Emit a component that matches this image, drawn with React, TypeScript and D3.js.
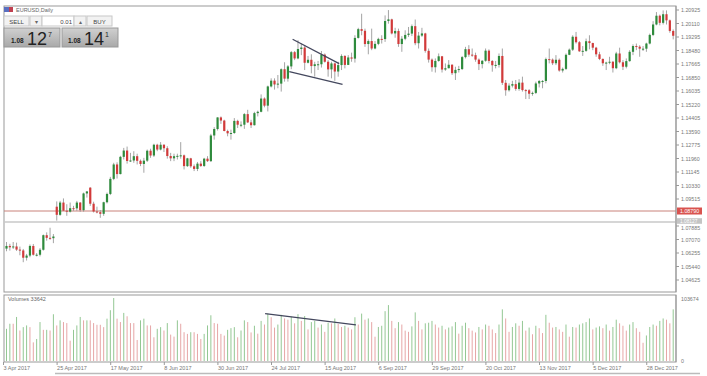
import React from 'react';
import * as d3 from 'd3';

// EUR/USD daily, prices in 1/10000 units
const opens = [
10652,10668,10660,10665,10646,10641,10597,10610,10668,10615,10615,10645,10733,10717,10715,10905,10856,10930,10881,10875,
10896,10895,10930,10884,10985,11020,10923,10876,10872,10862,10932,10982,11073,11160,11102,11206,11244,11181,11184,11210,
11182,11163,11183,11243,11214,11279,11250,11279,11258,11211,11197,11210,11212,11215,11150,11197,11149,11133,11165,11151,
11195,11180,11335,11374,11444,11425,11362,11348,11350,11423,11400,11400,11464,11414,11397,11470,11478,11558,11515,11631,
11666,11643,11648,11735,11678,11752,11838,11800,11857,11866,11774,11792,11754,11765,11765,11823,11780,11734,11770,11721,
11760,11815,11761,11806,11799,11924,11977,11967,11887,11905,11860,11888,11918,11917,12026,12036,11951,11966,11887,11919,
11942,11950,11995,11892,11938,11951,11846,11793,11747,11785,11813,11733,11741,11762,11711,11731,11736,11808,11856,11823,
11820,11793,11766,11786,11847,11785,11759,11761,11815,11653,11608,11636,11645,11616,11654,11609,11608,11587,11592,11649,
11664,11664,11796,11793,11771,11792,11727,11737,11822,11853,11931,11898,11843,11846,11904,11893,11865,11825,11797,11771,
11775,11780,11741,11830,11777,11750,11784,11840,11875,11871,11859,11859,11890,11942,12005,12058,12015,12067,12030,11966];
const highs = [
10692,10681,10692,10688,10664,10650,10620,10677,10680,10625,10655,10737,10750,10778,10740,10937,10940,10955,10920,10930,
10910,10940,10933,10990,11000,11023,10935,10905,10885,10935,10990,11085,11170,11173,11212,11260,11268,11230,11240,11225,
11190,11200,11250,11255,11285,11285,11295,11282,11270,11230,11225,11225,11295,11220,11200,11200,11160,11175,11180,11200,
11210,11345,11385,11445,11450,11430,11370,11370,11440,11430,11420,11470,11490,11430,11478,11485,11583,11565,11636,11680,
11680,11700,11740,11777,11760,11845,11845,11910,11890,11880,11815,11825,11780,11785,11845,11830,11790,11780,11775,11780,
11825,11820,11820,11835,11940,11985,12070,11980,11915,11980,11905,11925,11940,12060,12092,12040,11985,11980,11935,11970,
11990,12005,12035,11960,11985,11955,11860,11800,11800,11830,11815,11770,11790,11765,11750,11755,11815,11870,11880,11860,
11835,11800,11790,11860,11855,11790,11785,11830,11860,11670,11650,11665,11670,11675,11690,11615,11615,11600,11660,11670,
11670,11805,11860,11800,11820,11800,11745,11830,11860,11940,11960,11905,11875,11920,11940,11895,11870,11840,11800,11780,
11810,11785,11840,11865,11790,11800,11850,11885,11890,11880,11875,11895,11950,12025,12080,12065,12090,12090,12035,11975];
const lows = [
10636,10640,10650,10638,10612,10570,10580,10600,10610,10605,10605,10640,10700,10705,10685,10821,10850,10880,10850,10870,
10880,10880,10874,10875,10960,10910,10870,10865,10838,10850,10925,10975,11065,11075,11100,11190,11165,11175,11170,11160,
11150,11110,11175,11200,11205,11240,11245,11235,11195,11180,11180,11190,11195,11130,11145,11140,11120,11120,11145,11145,
11175,11175,11310,11365,11405,11360,11330,11310,11345,11380,11385,11375,11410,11380,11395,11450,11475,11505,11480,11625,
11612,11620,11600,11660,11660,11735,11790,11795,11820,11730,11770,11710,11690,11730,11745,11775,11690,11680,11665,11690,
11730,11740,11760,11780,11775,11920,11940,11870,11825,11850,11855,11880,11890,11900,12010,11945,11925,11870,11840,11910,
11930,11935,11880,11860,11930,11835,11775,11720,11715,11780,11715,11725,11740,11700,11670,11715,11730,11800,11810,11810,
11780,11730,11740,11780,11770,11720,11740,11745,11640,11575,11600,11625,11605,11605,11600,11555,11555,11575,11585,11625,
11620,11650,11770,11760,11760,11720,11715,11730,11820,11845,11890,11840,11815,11840,11855,11850,11810,11790,11755,11730,
11765,11715,11735,11770,11730,11740,11780,11820,11850,11810,11845,11840,11885,11935,12000,12000,12005,12005,11955,11915];
const closes = [
10668,10660,10665,10646,10641,10597,10610,10668,10615,10615,10645,10733,10717,10715,10725,10856,10930,10881,10875,10896,
10895,10930,10884,10985,10997,10923,10876,10872,10862,10932,10982,11073,11160,11102,11206,11244,11181,11184,11210,11182,
11163,11183,11243,11214,11279,11250,11279,11258,11211,11197,11210,11212,11215,11150,11197,11149,11133,11165,11151,11195,
11180,11335,11374,11444,11425,11362,11348,11350,11423,11400,11400,11464,11414,11397,11470,11478,11558,11515,11631,11666,
11643,11648,11735,11678,11752,11838,11800,11857,11866,11774,11792,11754,11765,11765,11823,11780,11734,11770,11721,11760,
11815,11761,11806,11799,11924,11977,11967,11887,11905,11860,11888,11918,11917,12026,12036,11951,11966,11887,11919,11942,
11950,11995,11892,11938,11951,11846,11793,11747,11785,11813,11733,11741,11762,11711,11731,11736,11808,11856,11823,11820,
11793,11766,11786,11847,11785,11759,11761,11815,11653,11608,11636,11645,11616,11654,11609,11608,11587,11592,11649,11664,
11664,11796,11793,11771,11792,11727,11737,11822,11853,11931,11898,11843,11846,11904,11893,11865,11825,11797,11771,11775,
11780,11741,11830,11777,11750,11784,11840,11875,11871,11859,11859,11890,11942,12005,12058,12015,12067,12030,11966,11937];

const volumes = [
52950,61310,61300,72460,50170,55740,58530,55700,30660,36230,
64100,51280,51300,50170,76920,58500,66890,64100,62430,33440,
51280,58530,72460,66890,66900,66850,62430,59640,59600,55740,
69680,83610,103674,69700,64100,79150,73580,62430,62400,34560,
66890,69680,58530,58500,39020,52950,55740,50170,62430,43480,
40130,66890,61310,47380,44590,47400,47350,44600,36230,44590,
58530,75250,62430,61310,44590,41800,51280,54070,55740,39020,
50170,66890,64100,47000,58000,45000,66000,60000,78000,72000,
55000,60000,76000,70000,68000,73000,62000,77000,66000,74000,
52000,64000,66000,55000,60000,48000,63000,62000,70000,61000,
56000,58000,55000,52000,72000,60000,78000,68000,70000,64000,
40000,56000,58000,82000,92000,66000,54000,64000,60000,50000,
48000,57000,80000,66000,52000,62000,63000,66000,60000,55000,
58000,52000,55000,57000,64000,45000,58000,63000,54000,50000,
47000,56000,52000,60000,58000,52000,46000,60000,85000,70000,
48000,56000,62000,58000,66000,50000,55000,44000,58000,54000,
46000,76000,63000,55000,56000,52000,48000,60000,40000,56000,
55000,60000,62000,64000,70000,52000,55000,57000,54000,60000,
50000,56000,68000,62000,58000,50000,60000,64000,54000,48000,
30000,42000,56000,60000,58000,66000,70000,68000,62000,85000];

const dateLabels = ['3 Apr 2017','25 Apr 2017','17 May 2017','8 Jun 2017','30 Jun 2017','24 Jul 2017','15 Aug 2017','6 Sep 2017','29 Sep 2017','20 Oct 2017','13 Nov 2017','5 Dec 2017','28 Dec 2017'];
const priceTicks = [1.20925,1.20110,1.19295,1.18480,1.17665,1.16850,1.16035,1.15220,1.14405,1.13590,1.12775,1.11960,1.11145,1.10330,1.09515,1.07885,1.07070,1.06255,1.05440,1.04625];
const hLinePrice = 1.0879;
const bidPrice = 1.08127;
const volMax = 103674;
// trend lines: [barIndex, value]
const triUpper = [[85.4, 1.1916],[99.3, 1.1769]];
const triLower = [[84.4, 1.1720],[100.3, 1.1644]];
const volLine = [[77.2, 78000],[104.3, 59500]];

const FONT = 'Liberation Sans, Arial, sans-serif';
const GREEN = '#2e8b3c';
const RED = '#d23a3a';

export default function App() {
  const n = closes.length;
  const x = d3.scaleLinear().domain([0, n - 1]).range([6.5, 673.2]);
  const y = d3.scaleLinear().domain([1.04625, 1.20925]).range([280, 10]);
  const yv = d3.scaleLinear().domain([0, volMax]).range([361, 298]);
  const line = d3.line<number[]>();
  const bidY = y(bidPrice);

  return (
    <div style={{ position: 'fixed', left: 0, top: 0 }}>
      <svg width={707} height={376} style={{ display: 'block', background: '#fff' }} fontFamily={FONT}>
        {/* main window frame */}
        <rect x={4} y={6} width={672} height={286} fill="none" stroke="#999" strokeWidth={1} />
        <rect x={4} y={295} width={672} height={67} fill="none" stroke="#999" strokeWidth={1} />
        <line x1={55} x2={700} y1={373.5} y2={373.5} stroke="#bbb" strokeWidth={1.5} />

        {/* horizontal lines */}
        <line x1={4} x2={676} y1={y(hLinePrice)} y2={y(hLinePrice)} stroke="#c9827a" strokeWidth={1} />
        <line x1={4} x2={676} y1={bidY} y2={bidY} stroke="#c8c8c8" strokeWidth={1.5} />

        {/* candles */}
        {closes.map((c, i) => {
          const o = opens[i] / 1e4, h = highs[i] / 1e4, l = lows[i] / 1e4, cl = c / 1e4;
          const up = cl >= o;
          const col = up ? GREEN : RED;
          const top = y(Math.max(o, cl));
          const bh = Math.max(1, Math.abs(y(o) - y(cl)));
          return (
            <g key={i}>
              <line x1={x(i)} x2={x(i)} y1={y(h)} y2={y(l)} stroke="#9a9a9a" strokeWidth={0.9} />
              <rect x={x(i) - 1.1} y={top} width={2.2} height={bh} fill={col} />
            </g>
          );
        })}

        {/* triangle lines */}
        <path d={line(triUpper.map(p => [x(p[0]), y(p[1])]) as any) || ''} stroke="#44485e" strokeWidth={1.3} fill="none" />
        <path d={line(triLower.map(p => [x(p[0]), y(p[1])]) as any) || ''} stroke="#44485e" strokeWidth={1.3} fill="none" />

        {/* right price axis */}
        <line x1={676} x2={676} y1={6} y2={292} stroke="#999" />
        {priceTicks.map((p, i) => {
          const ty = y(p);
          const shift = Math.abs(ty - bidY) < 6 ? 1.5 : 0;
          return (
            <g key={i}>
              <line x1={676} x2={679} y1={ty} y2={ty} stroke="#999" />
              <text x={681} y={ty + 2 + shift} fontSize={5.3} fill="#777">{p.toFixed(5)}</text>
            </g>
          );
        })}
        <rect x={677} y={y(hLinePrice) - 3.5} width={25} height={7} fill="#d9534f" />
        <text x={680} y={y(hLinePrice) + 2} fontSize={5.3} fill="#fff">{hLinePrice.toFixed(5)}</text>
        <rect x={677} y={bidY - 3.8} width={25} height={5.6} fill="#c4c4c4" />
        <text x={680} y={bidY + 0.8} fontSize={4.8} fill="#fff">{bidPrice.toFixed(5)}</text>

        {/* volumes */}
        {volumes.map((v, i) => {
          const up = i === 0 || v > volumes[i - 1];
          return <line key={i} x1={x(i)} x2={x(i)} y1={yv(0)} y2={yv(v)} stroke={up ? '#93c793' : '#e6a6a6'} strokeWidth={1} />;
        })}
        <path d={line(volLine.map(p => [x(p[0]), yv(p[1])]) as any) || ''} stroke="#44485e" strokeWidth={1.2} fill="none" />
        <text x={8} y={301} fontSize={5.5} fill="#666">Volumes 33642</text>
        <line x1={676} x2={676} y1={295} y2={362} stroke="#999" />
        <text x={681} y={301} fontSize={5.3} fill="#777">{volMax}</text>
        <text x={681} y={363} fontSize={5.3} fill="#777">0</text>

        {/* time axis */}
        {dateLabels.map((d, k) => (
          <g key={k}>
            <line x1={x(k * 16) - 3} x2={x(k * 16) - 3} y1={362} y2={365} stroke="#999" />
            <text x={x(k * 16) - 3} y={370} fontSize={5.5} fill="#777">{d}</text>
          </g>
        ))}

        {/* one-click trading panel */}
        <rect x={4} y={7} width={5} height={5} fill="#5a6fc0" />
        <rect x={9} y={7} width={4} height={5} fill="#c04050" />
        <text x={16} y={12} fontSize={5.5} fill="#666">EURUSD,Daily</text>
        <rect x={4} y={16} width={25} height={10} fill="#f2f2f2" stroke="#c8c8c8" />
        <text x={16.5} y={23.5} fontSize={6} fill="#444" textAnchor="middle">SELL</text>
        <rect x={30} y={16} width={12} height={10} fill="#f2f2f2" stroke="#c8c8c8" />
        <text x={36} y={23.5} fontSize={6} fill="#666" textAnchor="middle">▾</text>
        <rect x={42} y={16} width={32} height={10} fill="#fff" stroke="#c8c8c8" />
        <text x={72} y={23.5} fontSize={6} fill="#444" textAnchor="end">0.01</text>
        <rect x={74} y={16} width={12} height={10} fill="#f2f2f2" stroke="#c8c8c8" />
        <text x={80} y={23.5} fontSize={6} fill="#666" textAnchor="middle">▴</text>
        <rect x={87} y={16} width={25} height={10} fill="#f2f2f2" stroke="#c8c8c8" />
        <text x={99.5} y={23.5} fontSize={6} fill="#444" textAnchor="middle">BUY</text>
        <defs>
          <linearGradient id="pg" x1="0" x2="0" y1="0" y2="1">
            <stop offset="0" stopColor="#d0d0d0" />
            <stop offset="1" stopColor="#a9a9a9" />
          </linearGradient>
        </defs>
        <rect x={4} y={28} width={56} height={19} fill="url(#pg)" stroke="#999" />
        <rect x={62} y={28} width={56} height={19} fill="url(#pg)" stroke="#999" />
        <text x={11} y={43} fontSize={6.5} fontWeight="bold" fill="#222">1.08</text>
        <text x={27} y={45} fontSize={18} fill="#222">12</text>
        <text x={48} y={37} fontSize={7} fill="#222">7</text>
        <text x={68} y={43} fontSize={6.5} fontWeight="bold" fill="#222">1.08</text>
        <text x={84} y={45} fontSize={18} fill="#222">14</text>
        <text x={105} y={37} fontSize={7} fill="#222">1</text>
      </svg>
    </div>
  );
}
